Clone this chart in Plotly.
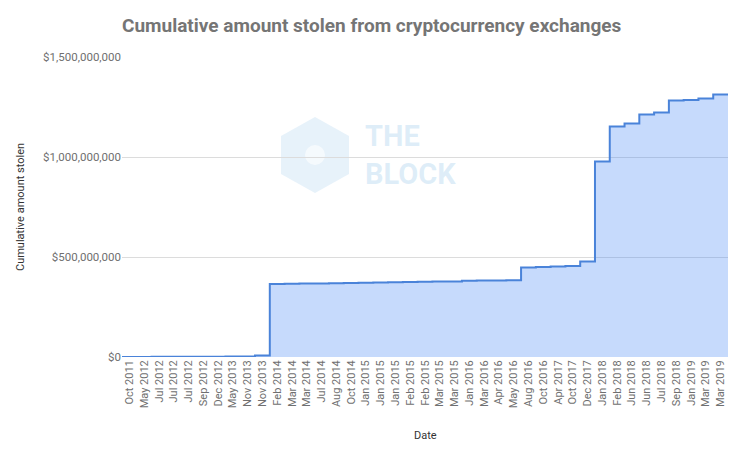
import plotly.graph_objects as go

dates = [
    "Oct 2011", "May 2012", "Jul 2012", "Jul 2012", "Jul 2012", "Sep 2012", "Dec 2012",
    "May 2013", "Nov 2013", "Nov 2013", "Feb 2014", "Mar 2014", "Mar 2014", "Jul 2014",
    "Aug 2014", "Oct 2014", "Jan 2015", "Jan 2015", "Jan 2015", "Feb 2015", "Feb 2015",
    "Mar 2015", "Mar 2015", "Jan 2016", "Mar 2016", "Apr 2016", "May 2016", "Aug 2016",
    "Oct 2016", "Apr 2017", "Oct 2017", "Dec 2017", "Jan 2018", "Feb 2018", "Jun 2018",
    "Jun 2018", "Jul 2018", "Sep 2018", "Jan 2019", "Mar 2019", "Mar 2019",
]
cumulative_stolen = [
    0.3e6, 0.5e6, 0.9e6, 1.2e6, 1.5e6, 1.7e6, 1.8e6,
    2.0e6, 2.5e6, 8e6, 365e6, 366e6, 367e6, 368e6,
    369e6, 370e6, 371e6, 372e6, 374e6, 375e6, 376e6,
    377e6, 378e6, 381e6, 382e6, 383e6, 384e6, 448e6,
    450e6, 453e6, 455e6, 477e6, 978e6, 1152e6, 1168e6,
    1212e6, 1223e6, 1282e6, 1285e6, 1292e6, 1313e6,
]

n = len(dates)
# each category occupies one band; the step spans the whole band
xs = [i - 0.5 for i in range(n)] + [n - 0.5]
ys = cumulative_stolen + [cumulative_stolen[-1]]

fig = go.Figure()
fig.add_trace(go.Scatter(
    x=xs, y=ys, mode="lines", line_shape="hv",
    line=dict(color="#4a83d9", width=2),
    fill="tozeroy", fillcolor="rgba(66,133,244,0.30)",
    hoverinfo="skip", showlegend=False,
))

gray = "#6f6f6f"
W, H = 720, 434    # page body has an 8px margin on every side
PW, PH = 606, 300  # plot area size in px
L, T = 114, 49
hexagon = "M 0 -38 L 34 -19 L 34 19 L 0 38 L -34 19 L -34 -19 Z"
hx, hy = (315 - 122) / PW, (357 - 155) / PH
fig.update_layout(
    width=W, height=H,
    margin=dict(l=L, r=W - L - PW, t=T, b=H - T - PH, autoexpand=False),
    paper_bgcolor="white", plot_bgcolor="white",
    font=dict(family="Roboto, Arial, sans-serif", color=gray, size=11),
    title=dict(
        text="<b>Cumulative amount stolen from cryptocurrency exchanges</b>",
        x=0, xref="paper", xanchor="left", y=1 - (25 - 8) / H, yanchor="middle",
        font=dict(size=19, color="#757575"),
    ),
    xaxis=dict(
        range=[-0.5, n - 0.5], tickmode="array",
        tickvals=list(range(n)), ticktext=dates, tickangle=-90,
        showgrid=False, zeroline=False, showline=False, ticks="",
        tickfont=dict(size=11, color=gray), automargin=False,
    ),
    yaxis=dict(
        range=[0, 1.5e9], tickvals=[0, 5e8, 1e9, 1.5e9], tickformat="$,.0f",
        showgrid=True, gridcolor="#dcdcdc", gridwidth=1, zeroline=False,
        showline=False, ticks="", tickfont=dict(size=11.5, color=gray),
        automargin=False,
    ),
    annotations=[
        dict(text="Cumulative amount stolen", xref="paper", yref="paper",
             x=(20 - 122) / PW, y=0.5, textangle=-90, showarrow=False,
             xanchor="center", yanchor="middle", font=dict(size=11, color="#333333")),
        dict(text="Date", xref="paper", yref="paper", x=0.5, y=-(435 - 357) / PH,
             showarrow=False, xanchor="center", yanchor="middle",
             font=dict(size=11, color="#333333")),
        dict(text="<b>THE<br>BLOCK</b>", xref="paper", yref="paper",
             x=(363 - 122) / PW, y=hy, align="left",
             showarrow=False, xanchor="left", yanchor="middle",
             font=dict(size=29, color="rgba(160,205,235,0.35)")),
    ],
    shapes=[
        dict(type="path", path=hexagon, xref="paper", yref="paper",
             xsizemode="pixel", ysizemode="pixel", xanchor=hx, yanchor=hy,
             fillcolor="rgba(160,205,235,0.25)", line=dict(width=0), layer="below"),
        dict(type="circle", xref="paper", yref="paper",
             xsizemode="pixel", ysizemode="pixel", xanchor=hx, yanchor=hy,
             x0=-10, x1=10, y0=-10, y1=10,
             fillcolor="rgba(255,255,255,0.6)", line=dict(width=0), layer="below"),
    ],
)

fig.write_html("out.html")
